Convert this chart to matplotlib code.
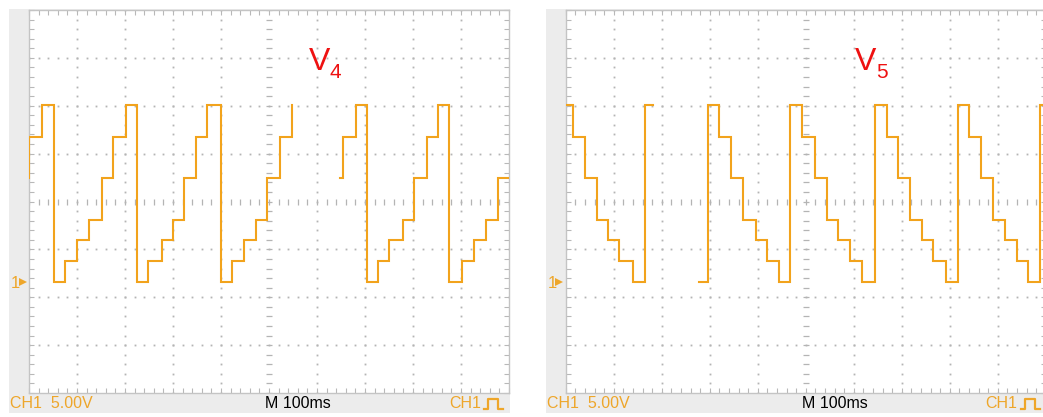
import numpy as np
import matplotlib.pyplot as plt
from matplotlib.patches import Rectangle
from matplotlib.lines import Line2D

W, H = 1043, 417

# staircase levels (V above the channel-1 ground marker)
# V4: switching instants in ms and the level held after each one
v4_t_a = [0.0, 0.6, 26.5, 52.1, 75.0, 100.0, 125.0, 151.5, 175.0, 201.5,
          225.0, 247.3, 276.5, 300.6, 323.5, 347.3, 371.5, 399.4, 423.5,
          448.5, 472.9, 495.2, 522.9, 548.5]
v4_v_a = [10.83, 15.11, 18.45, 0.0, 2.16, 4.36, 6.44, 10.83, 15.11, 18.45,
          0.0, 2.16, 4.36, 6.44, 10.83, 15.11, 18.45, 0.0, 2.16,
          4.36, 6.44, 10.83, 15.11, 18.45]
v4_end_a = 548.5

v4_t_b = [647.9, 654.8, 681.3, 703.5, 727.7, 750.6, 779.8, 802.7, 828.5,
          852.7, 875.6, 902.7, 927.1, 952.1, 977.7]
v4_v_b = [10.83, 15.11, 18.45, 0.0, 2.16, 4.36, 6.44, 10.83, 15.11,
          18.45, 0.0, 2.16, 4.36, 6.44, 10.83]
v4_end_b = 1000.0

# V5: same levels, stepping downwards
v5_t_a = [0.0, 15.8, 40.2, 64.6, 87.5, 111.7, 139.6, 165.2]
v5_v_a = [18.45, 15.11, 10.83, 6.44, 4.36, 2.16, 0.0, 18.45]
v5_end_a = 181.3

v5_t_b = [278.3, 297.1, 320.0, 344.4, 368.8, 395.8, 420.0, 444.4,
          467.3, 491.7, 519.4, 543.8, 567.9, 592.3, 616.7,
          644.4, 668.8, 692.9, 717.3, 741.7, 765.8, 791.7,
          816.7, 840.8, 865.2, 890.8, 915.2, 939.6, 963.8, 988.1]
v5_v_b = [0.0, 18.45, 15.11, 10.83, 6.44, 4.36, 2.16, 0.0,
          18.45, 15.11, 10.83, 6.44, 4.36, 2.16, 0.0,
          18.45, 15.11, 10.83, 6.44, 4.36, 2.16, 0.0,
          18.45, 15.11, 10.83, 6.44, 4.36, 2.16, 0.0, 18.45]
v5_end_b = 1000.0

VOLTS_DIV = 5.0
MS_DIV = 100.0
GND_DIV = 2.32          # ground marker height above the bottom edge, in divisions
Y0 = -GND_DIV * VOLTS_DIV

TRACE = '#f2a31c'
SCOPE_TXT = '#eea62a'
DOT = '#b4b4b4'
FRAME = '#ececec'

fig = plt.figure(figsize=(W / 100, H / 100), dpi=100)
fig.patch.set_facecolor('white')


def fx(px):
    return px / W


def fy(py):
    return 1 - py / H


def scope(x0, segments, name, sub, lbl_x):
    # grey bezel on the left and bottom of the screen
    fig.patches.append(Rectangle((fx(x0 - 20), fy(413)), 501 / W, 404 / H,
                                 transform=fig.transFigure, facecolor=FRAME,
                                 edgecolor='none', zorder=-5))
    ax = fig.add_axes([fx(x0), fy(393), 480 / W, 383 / H])
    ax.set_zorder(1)
    ax.set_facecolor('white')
    ax.set_xlim(0, 10 * MS_DIV)
    ax.set_ylim(Y0, Y0 + 8 * VOLTS_DIV)
    for s in ax.spines.values():
        s.set_color('#c4c4c4')
        s.set_linewidth(1.0)

    # border ticks, five per division
    ax.set_xticks(np.arange(0, 1001, 20))
    ax.set_yticks(Y0 + np.arange(0, 40.1, 1.0))
    ax.tick_params(direction='in', length=3.5, width=0.8, color='#b8b8b8',
                   top=True, right=True, labelbottom=False, labelleft=False)

    minor_x = np.arange(0, 1001, 20)
    minor_y = Y0 + np.arange(0, 40.1, 1.0)
    xc = 5 * MS_DIV
    yc = Y0 + 4 * VOLTS_DIV
    # dotted graticule
    for k in range(1, 10):
        if k == 5:
            continue
        ax.plot(np.full(minor_y.size, k * MS_DIV), minor_y, ls='', marker='s',
                ms=1.3, mew=0, color=DOT, zorder=1)
    for k in range(1, 8):
        if k == 4:
            continue
        yy = Y0 + k * VOLTS_DIV
        ax.plot(minor_x, np.full(minor_x.size, yy), ls='', marker='s',
                ms=1.3, mew=0, color=DOT, zorder=1)
    # centre cross with ticks
    ax.plot(np.full(minor_y.size, xc), minor_y, ls='', marker='_', ms=5,
            mew=0.9, color=DOT, zorder=1)
    ax.plot(minor_x, np.full(minor_x.size, yc), ls='', marker='|', ms=5,
            mew=0.9, color=DOT, zorder=1)

    for t, v, t_end in segments:
        ax.step(list(t) + [t_end], list(v) + [v[-1]], where='post',
                color=TRACE, lw=1.5, zorder=3, solid_joinstyle='miter')

    fam = ['Liberation Sans', 'DejaVu Sans']
    # ground marker
    fig.text(fx(x0 - 18), fy(288.5), '1', color=SCOPE_TXT, fontsize=12,
             family=fam)
    fig.add_artist(Line2D([fx(x0 - 6.5)], [fy(281.5)], marker='>', ms=6,
                          mew=0, color=SCOPE_TXT, transform=fig.transFigure))

    # status line
    base = fy(408.5)
    fig.text(fx(x0 - 19), base, 'CH1  5.00V', color=SCOPE_TXT, fontsize=11.5,
             family=fam, va='baseline')
    fig.text(fx(x0 + 236), base, 'M 100ms', color='black', fontsize=11.5,
             family=fam, va='baseline')
    fig.text(fx(x0 + 420), base, 'CH1', color=SCOPE_TXT, fontsize=11.5,
             family=fam, va='baseline')
    # rising-edge trigger icon
    sx = x0 + 455
    px = [sx, sx + 4, sx + 4, sx + 14, sx + 14, sx + 19]
    py = [409, 409, 398.5, 398.5, 409, 409]
    fig.add_artist(Line2D([fx(p) for p in px], [fy(p) for p in py],
                          color=SCOPE_TXT, lw=1.6, transform=fig.transFigure))

    # channel label
    fig.text(fx(lbl_x), fy(70), name, color='#ee1111', fontsize=23,
             family=fam, va='baseline', zorder=5)
    fig.text(fx(lbl_x + 21), fy(78), sub, color='#ee1111', fontsize=15,
             family=fam, va='baseline', zorder=5)
    return ax


scope(29, [(v4_t_a, v4_v_a, v4_end_a), (v4_t_b, v4_v_b, v4_end_b)],
      'V', '4', 309)
scope(565.7, [(v5_t_a, v5_v_a, v5_end_a), (v5_t_b, v5_v_b, v5_end_b)],
      'V', '5', 855)

fig.savefig('out.png', dpi=100)
